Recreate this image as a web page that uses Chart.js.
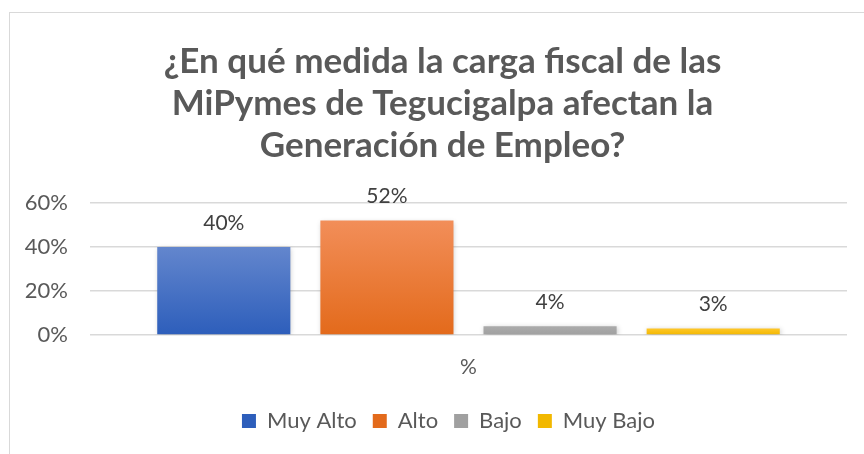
<!DOCTYPE html>
<html>
<head>
<meta charset="utf-8">
<script src="https://cdn.jsdelivr.net/npm/chart.js@4.4.1/dist/chart.umd.min.js"></script>
<style>
    html, body { margin: 0; padding: 0; background: #fff; overflow: hidden; }
    #wrap { position: relative; width: 864px; height: 454px; }
    #frame {
        position: absolute; left: 9px; top: 12px; width: 900px; height: 500px;
        border: 1.5px solid #d9d9d9; box-sizing: border-box;
    }
    canvas { position: absolute; left: 0; top: 0; }
</style>
</head>
<body>
<div id="wrap">
    <div id="frame"></div>
    <canvas id="chart" width="864" height="454"></canvas>
</div>
<script>
const categories = ['%'];
const seriesNames = ['Muy Alto', 'Alto', 'Bajo', 'Muy Bajo'];
const seriesValues = [[0.40], [0.52], [0.04], [0.03]];
const yTicks = [0, 0.2, 0.4, 0.6];
const titleLines = ['¿En qué medida la carga fiscal de las', 'MiPymes de Tegucigalpa afectan la', 'Generación de Empleo?'];

// top / bottom colours of each bar's gradient
const gradTop = ['#6386cd', '#f28e59', '#ababab', '#ffc72a'];
const gradBottom = ['#2d5ebb', '#e36a1b', '#a0a0a0', '#f2b800'];

const pct = v => Math.round(v * 100) + '%';

function barGradient(i) {
    return (context) => {
        const chart = context.chart;
        if (!chart.chartArea || context.parsed === undefined) return gradBottom[i];
        const ys = chart.scales.y;
        const top = ys.getPixelForValue(context.parsed.y);
        const base = ys.getPixelForValue(0);
        if (!isFinite(top) || Math.abs(base - top) < 1) return gradBottom[i];
        const g = chart.ctx.createLinearGradient(0, top, 0, base);
        g.addColorStop(0, gradTop[i]);
        g.addColorStop(1, gradBottom[i]);
        return g;
    };
}

// value labels above bars
const valueLabels = {
    id: 'valueLabels',
    afterDatasetsDraw(chart) {
        const ctx = chart.ctx;
        ctx.save();
        ctx.font = '21px Lato';
        ctx.fillStyle = '#404040';
        ctx.textAlign = 'center';
        ctx.textBaseline = 'middle';
        chart.data.datasets.forEach((ds, i) => {
            chart.getDatasetMeta(i).data.forEach((bar, j) => {
                ctx.fillText(pct(ds.data[j]), bar.x, bar.y - 24);
            });
        });
        ctx.restore();
    }
};

// soft shadow like the office chart
const barShadow = {
    id: 'barShadow',
    beforeDatasetsDraw(chart) {
        const ctx = chart.ctx;
        ctx.save();
        ctx.shadowColor = 'rgba(0,0,0,0.22)';
        ctx.shadowBlur = 5;
        ctx.shadowOffsetX = 1;
        ctx.shadowOffsetY = 1;
    },
    afterDatasetsDraw(chart) {
        chart.ctx.restore();
    }
};

// title and legend sit a bit right of the canvas centre in the original
const shiftBlocks = {
    id: 'shiftBlocks',
    afterLayout(chart) {
        if (chart.titleBlock) chart.titleBlock.left = 38;
        if (chart.legend) chart.legend.left = 50;
    }
};

const ctx = document.getElementById('chart').getContext('2d');
new Chart(ctx, {
    type: 'bar',
    data: {
        labels: categories,
        datasets: seriesNames.map((name, i) => ({
            label: name,
            data: seriesValues[i],
            backgroundColor: barGradient(i),
            borderWidth: 0,
            categoryPercentage: 0.862,
            barPercentage: 0.816
        }))
    },
    options: {
        responsive: false,
        animation: false,
        events: [],
        layout: { padding: { left: 0, right: 17, top: 0, bottom: 12 } },
        scales: {
            x: {
                grid: { display: false },
                border: { display: false },
                ticks: { color: '#595959', font: { family: 'Lato', size: 21 }, padding: 12 },
                afterFit: (scale) => { scale.height = 59; }
            },
            y: {
                min: 0,
                max: 0.6,
                afterBuildTicks: (scale) => { scale.ticks = yTicks.map(v => ({ value: v })); },
                ticks: {
                    color: '#595959',
                    font: { family: 'Lato', size: 22 },
                    padding: 22,
                    callback: (v) => pct(v)
                },
                grid: { color: '#d9d9d9', lineWidth: 1.5, drawTicks: false },
                border: { display: false },
                afterFit: (scale) => { scale.width = 90; }
            }
        },
        plugins: {
            title: {
                display: true,
                text: titleLines,
                color: '#595959',
                font: { family: 'Lato', size: 35, weight: 'bold', lineHeight: 1.2 },
                padding: { top: 41, bottom: 36 }
            },
            legend: {
                position: 'bottom',
                labels: {
                    color: '#595959',
                    font: { family: 'Lato', size: 22 },
                    boxWidth: 14,
                    boxHeight: 14,
                    padding: 16,
                    generateLabels: (chart) => seriesNames.map((name, i) => ({
                        text: name,
                        fillStyle: gradBottom[i],
                        strokeStyle: gradBottom[i],
                        lineWidth: 0,
                        fontColor: '#595959',
                        datasetIndex: i
                    }))
                }
            },
            tooltip: { enabled: false }
        }
    },
    plugins: [barShadow, valueLabels, shiftBlocks]
});
</script>
</body>
</html>
